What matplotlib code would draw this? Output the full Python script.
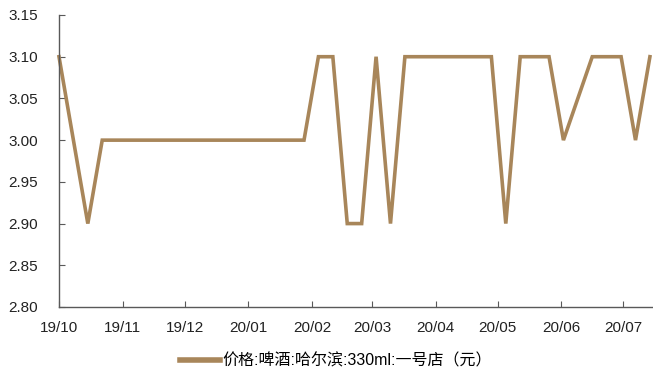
import matplotlib
matplotlib.use("Agg")
import matplotlib.pyplot as plt
import matplotlib.dates as mdates
import numpy as np
import pandas as pd

plt.rcParams['font.family'] = ['Liberation Sans', 'Noto Sans CJK SC', 'DejaVu Sans']

start_date = "2019-10-01"
n_weeks = 42
prices = [3.10, 3.00, 2.90, 3.00, 3.00, 3.00, 3.00, 3.00, 3.00, 3.00,
          3.00, 3.00, 3.00, 3.00, 3.00, 3.00, 3.00, 3.00, 3.10, 3.10,
          2.90, 2.90, 3.10, 2.90, 3.10, 3.10, 3.10, 3.10, 3.10, 3.10,
          3.10, 2.90, 3.10, 3.10, 3.10, 3.00, 3.05, 3.10, 3.10, 3.10,
          3.00, 3.10]
series_label = "价格:啤酒:哈尔滨:330ml:一号店（元）"
y_ticks = [2.80, 2.85, 2.90, 2.95, 3.00, 3.05, 3.10, 3.15]
month_ticks = ["2019-10-01", "2019-11-01", "2019-12-01", "2020-01-01", "2020-02-01",
               "2020-03-01", "2020-04-01", "2020-05-01", "2020-06-01", "2020-07-01"]
month_labels = ["19/10", "19/11", "19/12", "20/01", "20/02", "20/03", "20/04",
                "20/05", "20/06", "20/07"]

dates = pd.date_range(start_date, periods=n_weeks, freq="7D")

fig = plt.figure(figsize=(6.53, 3.74), dpi=100)
ax = fig.add_axes([59/653, 67/374, 1 - 59/653, (307-15)/374])

line_color = "#A8865A"
ax.plot(dates, prices, color=line_color, lw=2.6, solid_joinstyle="miter",
        label=series_label, clip_on=False)

ax.set_xlim(pd.Timestamp(start_date), pd.Timestamp(start_date) + pd.Timedelta(days=288.5))
ax.set_ylim(2.80, 3.15)
ax.set_yticks(y_ticks)
ax.set_yticklabels([f"{v:.2f}" for v in y_ticks])
ax.set_xticks(pd.to_datetime(month_ticks))
ax.set_xticklabels(month_labels)

for s in ["top", "right"]:
    ax.spines[s].set_visible(False)
for s in ["left", "bottom"]:
    ax.spines[s].set_color("#595959")
    ax.spines[s].set_linewidth(1.0)

ax.tick_params(axis="y", direction="in", length=4, width=0.8, color="#595959",
               labelsize=11, pad=15, labelcolor="#222222")
ax.tick_params(axis="x", direction="in", length=4, width=0.8, color="#595959",
               labelsize=11, pad=10, labelcolor="#222222")

leg = fig.legend(loc="center", bbox_to_anchor=(336/653, 1 - 361/374), frameon=False,
                 handlelength=2.5, handletextpad=0.2,
                 prop={"family": ["Liberation Sans", "Noto Sans CJK SC"], "size": 11.5})
for h in leg.get_lines():
    h.set_linewidth(4)

fig.savefig("out.png", dpi=100)
